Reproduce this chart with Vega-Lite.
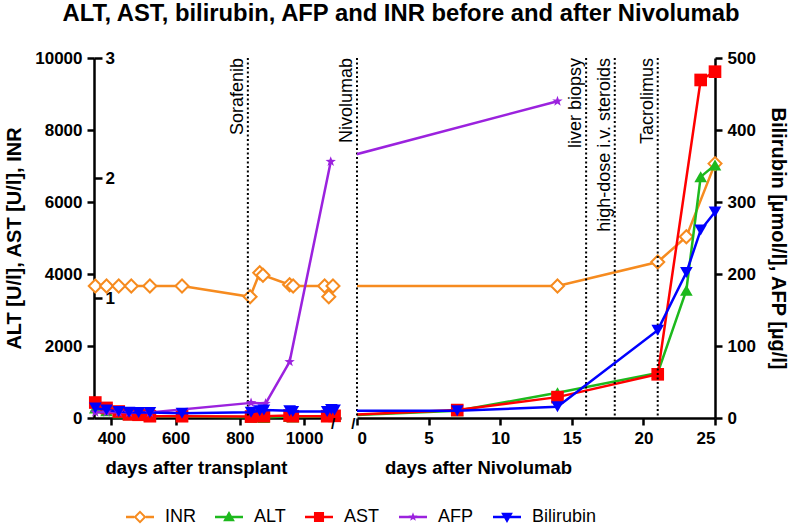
{
  "$schema": "https://vega.github.io/schema/vega-lite/v6.json",
  "padding": {"left": 4, "right": 5, "top": 2, "bottom": 5},
  "background": "white",
  "title": {"text": "ALT, AST, bilirubin, AFP and INR before and after Nivolumab", "fontSize": 23.8, "font": "Liberation Sans", "fontWeight": "bold", "color": "black", "anchor": "middle", "offset": 23, "dx": 5},
  "bounds": "flush",
  "spacing": 16,
  "datasets": {
    "labs": [
      {"panel": "L", "day": 350, "series": "INR", "value": 1.1},
      {"panel": "L", "day": 385, "series": "INR", "value": 1.1},
      {"panel": "L", "day": 423, "series": "INR", "value": 1.1},
      {"panel": "L", "day": 462, "series": "INR", "value": 1.1},
      {"panel": "L", "day": 520, "series": "INR", "value": 1.1},
      {"panel": "L", "day": 620, "series": "INR", "value": 1.1},
      {"panel": "L", "day": 832, "series": "INR", "value": 1.01},
      {"panel": "L", "day": 862, "series": "INR", "value": 1.21},
      {"panel": "L", "day": 872, "series": "INR", "value": 1.19},
      {"panel": "L", "day": 955, "series": "INR", "value": 1.11},
      {"panel": "L", "day": 966, "series": "INR", "value": 1.1},
      {"panel": "L", "day": 1064, "series": "INR", "value": 1.1},
      {"panel": "L", "day": 1077, "series": "INR", "value": 1.01},
      {"panel": "L", "day": 1090, "series": "INR", "value": 1.1},
      {"panel": "L", "day": 350, "series": "ALT", "value": 280},
      {"panel": "L", "day": 385, "series": "ALT", "value": 200},
      {"panel": "L", "day": 423, "series": "ALT", "value": 140},
      {"panel": "L", "day": 455, "series": "ALT", "value": 90},
      {"panel": "L", "day": 485, "series": "ALT", "value": 70},
      {"panel": "L", "day": 520, "series": "ALT", "value": 40},
      {"panel": "L", "day": 620, "series": "ALT", "value": 40},
      {"panel": "L", "day": 835, "series": "ALT", "value": 20},
      {"panel": "L", "day": 862, "series": "ALT", "value": 30},
      {"panel": "L", "day": 875, "series": "ALT", "value": 15},
      {"panel": "L", "day": 955, "series": "ALT", "value": 40},
      {"panel": "L", "day": 965, "series": "ALT", "value": 30},
      {"panel": "L", "day": 1072, "series": "ALT", "value": 40},
      {"panel": "L", "day": 1085, "series": "ALT", "value": 60},
      {"panel": "L", "day": 1095, "series": "ALT", "value": 50},
      {"panel": "L", "day": 350, "series": "AST", "value": 430},
      {"panel": "L", "day": 385, "series": "AST", "value": 280},
      {"panel": "L", "day": 423, "series": "AST", "value": 180},
      {"panel": "L", "day": 455, "series": "AST", "value": 100},
      {"panel": "L", "day": 485, "series": "AST", "value": 90},
      {"panel": "L", "day": 520, "series": "AST", "value": 50},
      {"panel": "L", "day": 620, "series": "AST", "value": 50},
      {"panel": "L", "day": 835, "series": "AST", "value": 40},
      {"panel": "L", "day": 862, "series": "AST", "value": 60},
      {"panel": "L", "day": 875, "series": "AST", "value": 50},
      {"panel": "L", "day": 955, "series": "AST", "value": 70},
      {"panel": "L", "day": 965, "series": "AST", "value": 50},
      {"panel": "L", "day": 1072, "series": "AST", "value": 50},
      {"panel": "L", "day": 1085, "series": "AST", "value": 90},
      {"panel": "L", "day": 1095, "series": "AST", "value": 60},
      {"panel": "L", "day": 350, "series": "AFP", "value": 8},
      {"panel": "L", "day": 385, "series": "AFP", "value": 8},
      {"panel": "L", "day": 423, "series": "AFP", "value": 8},
      {"panel": "L", "day": 455, "series": "AFP", "value": 7.5},
      {"panel": "L", "day": 520, "series": "AFP", "value": 7.5},
      {"panel": "L", "day": 835, "series": "AFP", "value": 21},
      {"panel": "L", "day": 880, "series": "AFP", "value": 20},
      {"panel": "L", "day": 955, "series": "AFP", "value": 78},
      {"panel": "L", "day": 1083, "series": "AFP", "value": 356},
      {"panel": "L", "day": 350, "series": "Bilirubin", "value": 14},
      {"panel": "L", "day": 385, "series": "Bilirubin", "value": 11},
      {"panel": "L", "day": 423, "series": "Bilirubin", "value": 9},
      {"panel": "L", "day": 455, "series": "Bilirubin", "value": 8},
      {"panel": "L", "day": 485, "series": "Bilirubin", "value": 7.5},
      {"panel": "L", "day": 520, "series": "Bilirubin", "value": 7.5},
      {"panel": "L", "day": 620, "series": "Bilirubin", "value": 6.5},
      {"panel": "L", "day": 835, "series": "Bilirubin", "value": 8},
      {"panel": "L", "day": 862, "series": "Bilirubin", "value": 10},
      {"panel": "L", "day": 875, "series": "Bilirubin", "value": 11},
      {"panel": "L", "day": 955, "series": "Bilirubin", "value": 10},
      {"panel": "L", "day": 965, "series": "Bilirubin", "value": 9},
      {"panel": "L", "day": 1072, "series": "Bilirubin", "value": 9},
      {"panel": "L", "day": 1085, "series": "Bilirubin", "value": 12},
      {"panel": "L", "day": 1095, "series": "Bilirubin", "value": 11},
      {"panel": "R", "day": -2, "series": "INR", "value": 1.1},
      {"panel": "R", "day": 14, "series": "INR", "value": 1.1},
      {"panel": "R", "day": 21, "series": "INR", "value": 1.3},
      {"panel": "R", "day": 23, "series": "INR", "value": 1.51},
      {"panel": "R", "day": 25, "series": "INR", "value": 2.12},
      {"panel": "R", "day": -2, "series": "ALT", "value": 50},
      {"panel": "R", "day": 7, "series": "ALT", "value": 200},
      {"panel": "R", "day": 14, "series": "ALT", "value": 700},
      {"panel": "R", "day": 21, "series": "ALT", "value": 1250},
      {"panel": "R", "day": 23, "series": "ALT", "value": 3550},
      {"panel": "R", "day": 24, "series": "ALT", "value": 6700},
      {"panel": "R", "day": 25, "series": "ALT", "value": 7030},
      {"panel": "R", "day": -2, "series": "AST", "value": 60},
      {"panel": "R", "day": 7, "series": "AST", "value": 220},
      {"panel": "R", "day": 14, "series": "AST", "value": 580},
      {"panel": "R", "day": 21, "series": "AST", "value": 1214},
      {"panel": "R", "day": 24, "series": "AST", "value": 9390},
      {"panel": "R", "day": 25, "series": "AST", "value": 9620},
      {"panel": "R", "day": -2, "series": "AFP", "value": 356},
      {"panel": "R", "day": 14, "series": "AFP", "value": 440},
      {"panel": "R", "day": -2, "series": "Bilirubin", "value": 10},
      {"panel": "R", "day": 7, "series": "Bilirubin", "value": 10},
      {"panel": "R", "day": 14, "series": "Bilirubin", "value": 15.7},
      {"panel": "R", "day": 21, "series": "Bilirubin", "value": 122},
      {"panel": "R", "day": 23, "series": "Bilirubin", "value": 202},
      {"panel": "R", "day": 24, "series": "Bilirubin", "value": 261},
      {"panel": "R", "day": 25, "series": "Bilirubin", "value": 286}
    ],
    "events": [
      {"panel": "L", "day": 825, "label": "Sorafenib"},
      {"panel": "R", "day": 0, "label": "Nivolumab"},
      {"panel": "R", "day": 16, "label": "liver biopsy"},
      {"panel": "R", "day": 18, "label": "high-dose i.v. steroids"},
      {"panel": "R", "day": 21, "label": "Tacrolimus"}
    ],
    "breaks": [
      {"panel": "L", "day": 1090, "mark": "/"},
      {"panel": "R", "day": -0.25, "mark": "/"}
    ]
  },
  "hconcat": [
    {
      "width": 247,
      "height": 360,
      "layer": [
        {
          "data": {"name": "labs"},
          "transform": [{"filter": "false"}],
          "mark": {"type": "point", "filled": true, "opacity": 1},
          "encoding": {
            "color": {"field": "series", "type": "nominal", "scale": {"domain": ["INR", "ALT", "AST", "AFP", "Bilirubin"], "range": ["#F68B1F", "#1DB91D", "#FF0000", "#9B22DE", "#0000FF"]},
              "legend": {"title": null, "orient": "none", "legendX": 32, "legendY": 445, "direction": "horizontal", "symbolSize": 784, "symbolStrokeWidth": 0, "symbolOpacity": 1, "labelFontSize": 18, "labelFont": "Liberation Sans", "labelColor": "black", "labelOffset": 11, "columnPadding": 19}},
            "shape": {"field": "series", "type": "nominal", "scale": {"domain": ["INR", "ALT", "AST", "AFP", "Bilirubin"], "range": [
              "M-1,-0.09H-0.42V0.09H-1ZM0.42,-0.09H1V0.09H0.42ZM0,-0.46L0.46,0L0,0.46L-0.46,0ZM0,-0.26L-0.26,0L0,0.26L0.26,0Z",
              "M-1,-0.09H1V0.09H-1ZM0,-0.42L0.42,0.3L-0.42,0.3Z",
              "M-1,-0.09H1V0.09H-1ZM-0.36,-0.36H0.36V0.36H-0.36Z",
              "M-1,-0.09H1V0.09H-1ZM0,-0.34L0.085,-0.115L0.32,-0.105L0.135,0.04L0.2,0.27L0,0.145L-0.2,0.27L-0.135,0.04L-0.32,-0.105L-0.085,-0.115Z",
              "M-1,-0.09H1V0.09H-1ZM0,0.42L-0.42,-0.3L0.42,-0.3Z"]},
              "legend": {"title": null, "orient": "none", "legendX": 32, "legendY": 445, "direction": "horizontal", "symbolSize": 784, "symbolStrokeWidth": 0, "symbolOpacity": 1, "labelFontSize": 18, "labelFont": "Liberation Sans", "labelColor": "black", "labelOffset": 11, "columnPadding": 19}}
          }
        },
        {
          "data": {"name": "labs"},
          "transform": [{"filter": "datum.panel === 'L' && datum.series === 'INR'"}],
          "encoding": {
            "x": {"field": "day", "type": "quantitative", "scale": {"domain": [346, 1115], "nice": false, "zero": false}, "axis": {"values": [400, 600, 800, 1000], "format": "d", "title": "days after transplant", "titleX": 102, "titleFontSize": 18.5, "titlePadding": 12}},
            "y": {"field": "value", "type": "quantitative", "scale": {"domain": [0, 3], "nice": false}, "axis": {"orient": "left", "values": [1, 2, 3], "domain": false, "tickSize": -8, "labelAlign": "left", "labelPadding": -3, "title": null}}
          },
          "layer": [
            {"mark": {"type": "line", "strokeWidth": 2.5}, "encoding": {"color": {"field": "series", "type": "nominal", "legend": null}}},
            {"mark": {"type": "point", "shape": "diamond", "filled": true, "fill": "white", "stroke": "#F68B1F", "strokeWidth": 2, "size": 170, "opacity": 1}}
          ]
        },
        {
          "layer": [
            {
              "data": {"name": "labs"},
              "transform": [{"filter": "datum.panel === 'L' && (datum.series === 'ALT' || datum.series === 'AST')"}],
              "encoding": {
                "x": {"field": "day", "type": "quantitative", "scale": {"domain": [346, 1115], "nice": false, "zero": false}, "axis": {"values": [400, 600, 800, 1000], "format": "d", "title": "days after transplant", "titleX": 102, "titleFontSize": 18.5, "titlePadding": 12}},
                "y": {"field": "value", "type": "quantitative", "scale": {"domain": [0, 10000], "nice": false}, "axis": {"orient": "left", "values": [0, 2000, 4000, 6000, 8000, 10000], "format": "d", "title": "ALT [U/l], AST [U/l], INR", "titlePadding": 10}},
                "color": {"field": "series", "type": "nominal", "legend": null}
              },
              "layer": [
                {"mark": {"type": "line", "strokeWidth": 2.5}},
                {"transform": [{"filter": "datum.series === 'ALT'"}], "mark": {"type": "point", "shape": "triangle-up", "filled": true, "opacity": 1, "size": 160}},
                {"transform": [{"filter": "datum.series === 'AST'"}], "mark": {"type": "point", "shape": "square", "filled": true, "opacity": 1, "size": 160}}
              ]
            },
            {
              "data": {"name": "events"},
              "transform": [{"filter": "datum.panel === 'L'"}],
              "mark": {"type": "rule", "color": "black", "strokeWidth": 2, "strokeDash": [2, 2.5]},
              "encoding": {"x": {"field": "day", "type": "quantitative"}}
            },
            {
              "data": {"name": "events"},
              "transform": [{"filter": "datum.panel === 'L'"}],
              "mark": {"type": "text", "angle": 270, "align": "right", "baseline": "alphabetic", "dy": -5, "fontSize": 18, "font": "Liberation Sans", "color": "black"},
              "encoding": {"x": {"field": "day", "type": "quantitative"}, "y": {"datum": 10000}, "text": {"field": "label"}}
            },
            {
              "data": {"name": "breaks"},
              "transform": [{"filter": "datum.panel === 'L'"}],
              "mark": {"type": "text", "baseline": "middle", "align": "center", "dy": 6, "fontSize": 15, "fontWeight": "bold", "font": "Liberation Sans", "color": "black"},
              "encoding": {"x": {"field": "day", "type": "quantitative"}, "y": {"datum": 0}, "text": {"field": "mark"}}
            }
          ]
        },
        {
          "data": {"name": "labs"},
          "transform": [{"filter": "datum.panel === 'L' && (datum.series === 'AFP' || datum.series === 'Bilirubin')"}],
          "encoding": {
            "x": {"field": "day", "type": "quantitative", "scale": {"domain": [346, 1115], "nice": false, "zero": false}, "axis": {"values": [400, 600, 800, 1000], "format": "d", "title": "days after transplant", "titleX": 102, "titleFontSize": 18.5, "titlePadding": 12}},
            "y": {"field": "value", "type": "quantitative", "scale": {"domain": [0, 500], "nice": false}, "axis": null},
            "color": {"field": "series", "type": "nominal", "legend": null}
          },
          "layer": [
            {"mark": {"type": "line", "strokeWidth": 2.5}},
            {"transform": [{"filter": "datum.series === 'AFP'"}], "mark": {"type": "point", "shape": "M0,-1L0.24,-0.33L0.95,-0.31L0.38,0.12L0.59,0.81L0,0.4L-0.59,0.81L-0.38,0.12L-0.95,-0.31L-0.24,-0.33Z", "filled": true, "opacity": 1, "size": 120}},
            {"transform": [{"filter": "datum.series === 'Bilirubin'"}], "mark": {"type": "point", "shape": "triangle-down", "filled": true, "opacity": 1, "size": 160}}
          ]
        }
      ],
      "resolve": {"scale": {"y": "independent"}, "axis": {"y": "independent"}}
    },
    {
      "width": 358,
      "height": 360,
      "layer": [
        {
          "data": {"name": "labs"},
          "transform": [{"filter": "datum.panel === 'R' && datum.series === 'INR'"}],
          "encoding": {
            "x": {"field": "day", "type": "quantitative", "scale": {"domain": [0, 25], "nice": false, "zero": false}, "axis": {"values": [0, 5, 10, 15, 20, 25], "title": "days after Nivolumab", "titleX": 121, "titleFontSize": 18.5, "titlePadding": 12}},
            "y": {"field": "value", "type": "quantitative", "scale": {"domain": [0, 3], "nice": false}, "axis": null}
          },
          "layer": [
            {"mark": {"type": "line", "strokeWidth": 2.5, "clip": true}, "encoding": {"color": {"field": "series", "type": "nominal", "legend": null}}},
            {"transform": [{"filter": "datum.day >= 0"}], "mark": {"type": "point", "shape": "diamond", "filled": true, "fill": "white", "stroke": "#F68B1F", "strokeWidth": 2, "size": 170, "opacity": 1}}
          ]
        },
        {
          "layer": [
            {
              "data": {"name": "labs"},
              "transform": [{"filter": "datum.panel === 'R' && (datum.series === 'ALT' || datum.series === 'AST')"}],
              "encoding": {
                "x": {"field": "day", "type": "quantitative", "scale": {"domain": [0, 25], "nice": false, "zero": false}, "axis": {"values": [0, 5, 10, 15, 20, 25], "title": "days after Nivolumab", "titleX": 121, "titleFontSize": 18.5, "titlePadding": 12}},
                "y": {"field": "value", "type": "quantitative", "scale": {"domain": [0, 10000], "nice": false}, "axis": null},
                "color": {"field": "series", "type": "nominal", "legend": null}
              },
              "layer": [
                {"mark": {"type": "line", "strokeWidth": 2.5, "clip": true}},
                {"transform": [{"filter": "datum.day >= 0 && datum.series === 'ALT'"}], "mark": {"type": "point", "shape": "triangle-up", "filled": true, "opacity": 1, "size": 160}},
                {"transform": [{"filter": "datum.day >= 0 && datum.series === 'AST'"}], "mark": {"type": "point", "shape": "square", "filled": true, "opacity": 1, "size": 160}}
              ]
            },
            {
              "data": {"name": "events"},
              "transform": [{"filter": "datum.panel === 'R'"}],
              "mark": {"type": "rule", "color": "black", "strokeWidth": 2, "strokeDash": [2, 2.5]},
              "encoding": {"x": {"field": "day", "type": "quantitative"}}
            },
            {
              "data": {"name": "events"},
              "transform": [{"filter": "datum.panel === 'R'"}],
              "mark": {"type": "text", "angle": 270, "align": "right", "baseline": "alphabetic", "dy": -5, "fontSize": 18, "font": "Liberation Sans", "color": "black"},
              "encoding": {"x": {"field": "day", "type": "quantitative"}, "y": {"datum": 10000}, "text": {"field": "label"}}
            },
            {
              "data": {"name": "breaks"},
              "transform": [{"filter": "datum.panel === 'R'"}],
              "mark": {"type": "text", "baseline": "middle", "align": "center", "dy": 6, "fontSize": 15, "fontWeight": "bold", "font": "Liberation Sans", "color": "black"},
              "encoding": {"x": {"field": "day", "type": "quantitative"}, "y": {"datum": 0}, "text": {"field": "mark"}}
            }
          ]
        },
        {
          "data": {"name": "labs"},
          "transform": [{"filter": "datum.panel === 'R' && (datum.series === 'AFP' || datum.series === 'Bilirubin')"}],
          "encoding": {
            "x": {"field": "day", "type": "quantitative", "scale": {"domain": [0, 25], "nice": false, "zero": false}, "axis": {"values": [0, 5, 10, 15, 20, 25], "title": "days after Nivolumab", "titleX": 121, "titleFontSize": 18.5, "titlePadding": 12}},
            "y": {"field": "value", "type": "quantitative", "scale": {"domain": [0, 500], "nice": false}, "axis": {"orient": "right", "values": [0, 100, 200, 300, 400, 500], "title": "Bilirubin [µmol/l], AFP [µg/l]", "titlePadding": 12}},
            "color": {"field": "series", "type": "nominal", "legend": null}
          },
          "layer": [
            {"mark": {"type": "line", "strokeWidth": 2.5, "clip": true}},
            {"transform": [{"filter": "datum.day >= 0 && datum.series === 'AFP'"}], "mark": {"type": "point", "shape": "M0,-1L0.24,-0.33L0.95,-0.31L0.38,0.12L0.59,0.81L0,0.4L-0.59,0.81L-0.38,0.12L-0.95,-0.31L-0.24,-0.33Z", "filled": true, "opacity": 1, "size": 120}},
            {"transform": [{"filter": "datum.day >= 0 && datum.series === 'Bilirubin'"}], "mark": {"type": "point", "shape": "triangle-down", "filled": true, "opacity": 1, "size": 160}}
          ]
        }
      ],
      "resolve": {"scale": {"y": "independent"}, "axis": {"y": "independent"}}
    }
  ],
  "config": {
    "font": "Liberation Sans",
    "view": {"stroke": null},
    "axis": {"domainColor": "black", "domainWidth": 2.5, "tickColor": "black", "tickWidth": 2.5, "tickSize": 7, "labelFont": "Liberation Sans", "labelFontWeight": "bold", "labelFontSize": 17, "labelColor": "black", "labelPadding": 5, "titleFont": "Liberation Sans", "titleFontSize": 20, "titleFontWeight": "bold", "titleColor": "black", "grid": false}
  }
}
